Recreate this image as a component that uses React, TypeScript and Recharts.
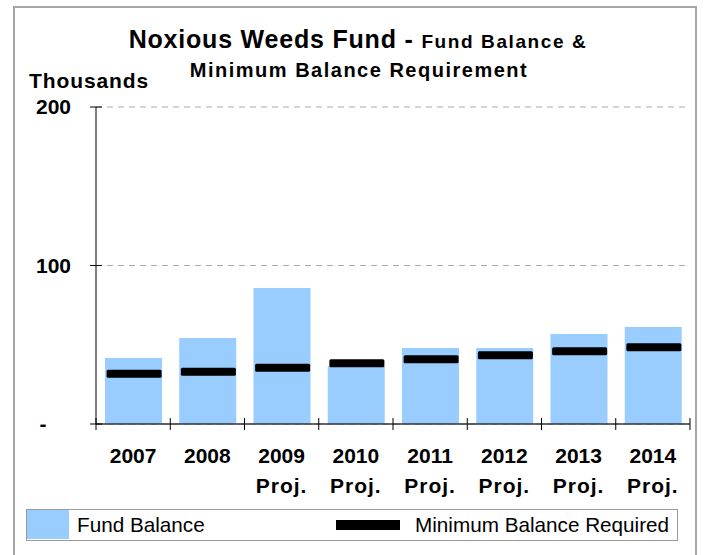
import React from 'react';
import { ComposedChart, Bar, Line, XAxis, YAxis, CartesianGrid, Legend } from 'recharts';

const years = ['2007', '2008', '2009', '2010', '2011', '2012', '2013', '2014'];
const yearNotes = ['', '', 'Proj.', 'Proj.', 'Proj.', 'Proj.', 'Proj.', 'Proj.'];
const fundBalance = [41.6, 54.3, 85.8, 36.6, 48.0, 48.0, 56.8, 61.2];
const minBalance = [31.7, 33.0, 35.5, 38.3, 40.8, 43.3, 45.9, 48.4];
const yTicks = [0, 100, 200];

const seriesNames = { fund: 'Fund Balance', min: 'Minimum Balance Required' };
const seriesColors = { fund: '#99CCFF', min: '#000000' };

const data = years.map((y, i) => ({
  year: y,
  note: yearNotes[i],
  fund: fundBalance[i],
  min: minBalance[i],
}));

const W = 704;
const H = 555;
const M = { top: 107, right: 14, bottom: 71, left: 16 };
const Y_W = 80;
const X_H = 60;
const BAND = (W - M.left - M.right - Y_W) / years.length;
const FONT = '"Liberation Sans", Arial, sans-serif';

const XTick = (props: any) => {
  const { x, y, payload, index } = props;
  const i = payload?.index ?? index ?? 0;
  const note = yearNotes[i];
  return (
    <g>
      <line x1={x - BAND / 2} x2={x - BAND / 2} y1={y - 6} y2={y + 6} stroke="#000" strokeWidth={1} />
      {i === years.length - 1 && (
        <line x1={x + BAND / 2} x2={x + BAND / 2} y1={y - 6} y2={y + 6} stroke="#000" strokeWidth={1} />
      )}
      <text x={x} y={y + 39} textAnchor="middle" fontFamily={FONT} fontWeight="bold" fontSize={21} fill="#000">
        {payload.value}
      </text>
      {note && (
        <text x={x} y={y + 69} textAnchor="middle" fontFamily={FONT} fontWeight="bold" fontSize={21} fill="#000" letterSpacing={1}>
          {note}
        </text>
      )}
    </g>
  );
};

const YTick = (props: any) => {
  const { x, y, payload } = props;
  const v = payload.value;
  return (
    <g>
      <line x1={x - 6} x2={x + 6} y1={y} y2={y} stroke="#000" strokeWidth={1} />
      {v === 0 ? (
        <text x={x - 53} y={y + 6.5} textAnchor="middle" fontFamily={FONT} fontWeight="bold" fontSize={21} fill="#000">
          -
        </text>
      ) : (
        <text x={x - 25} y={y + 7} textAnchor="end" fontFamily={FONT} fontWeight="bold" fontSize={21} fill="#000">
          {v}
        </text>
      )}
    </g>
  );
};

const MinDot = (props: any) => {
  const { cx, cy, index } = props;
  if (cx == null || cy == null) return <g key={`d${index}`} />;
  return <rect key={`d${index}`} x={cx - 26.5} y={cy - 4} width={55} height={8} rx={1.5} fill="#000" />;
};

const LegendContent = () => (
  <div
    style={{
      width: 652,
      height: 32,
      boxSizing: 'border-box',
      border: '1.5px solid #9a9a9a',
      position: 'relative',
      fontFamily: FONT,
      fontSize: 20.7,
      color: '#000',
      background: '#fff',
    }}
  >
    <div style={{ position: 'absolute', left: 0, top: 0, width: 42, height: 29, background: seriesColors.fund }} />
    <div style={{ position: 'absolute', left: 50, top: 3, lineHeight: '24px', whiteSpace: 'nowrap' }}>{seriesNames.fund}</div>
    <div style={{ position: 'absolute', left: 309, top: 10, width: 64, height: 10, background: seriesColors.min }} />
    <div style={{ position: 'absolute', left: 388, top: 3, lineHeight: '24px', whiteSpace: 'nowrap' }}>
      {seriesNames.min}
    </div>
  </div>
);

export default function App() {
  return (
    <div style={{ position: 'absolute', left: 0, top: 0, width: W, height: H, background: '#fff', overflow: 'hidden' }}>
      <div
        style={{
          position: 'absolute',
          left: 13,
          top: 6,
          width: 684,
          height: 570,
          border: '2px solid #a6a6a6',
          boxSizing: 'border-box',
        }}
      />
      <div
        style={{
          position: 'absolute',
          left: 0,
          width: 716,
          top: 24,
          textAlign: 'center',
          fontFamily: FONT,
          fontWeight: 'bold',
          color: '#000',
          whiteSpace: 'nowrap',
          lineHeight: '30px',
        }}
      >
        <span style={{ fontSize: 25, letterSpacing: 0.8 }}>Noxious Weeds Fund - </span>
        <span style={{ fontSize: 19, letterSpacing: 1.6 }}>Fund Balance &amp;</span>
      </div>
      <div
        style={{
          position: 'absolute',
          left: 0,
          width: 718,
          top: 57,
          textAlign: 'center',
          fontFamily: FONT,
          fontWeight: 'bold',
          fontSize: 20,
          letterSpacing: 1.5,
          color: '#000',
          whiteSpace: 'nowrap',
          lineHeight: '26px',
        }}
      >
        Minimum Balance Requirement
      </div>
      <div
        style={{
          position: 'absolute',
          left: 29,
          top: 69,
          fontFamily: FONT,
          fontWeight: 'bold',
          fontSize: 21,
          letterSpacing: 0.9,
          color: '#000',
          whiteSpace: 'nowrap',
          lineHeight: '24px',
        }}
      >
        Thousands
      </div>
      <div style={{ position: 'absolute', left: 0, top: 0 }}>
        <ComposedChart width={W} height={H} data={data} margin={M}>
          <CartesianGrid vertical={false} stroke="#aaaaaa" strokeDasharray="6 5" />
          <XAxis
            dataKey="year"
            height={X_H}
            tickSize={0}
            tickMargin={0}
            tick={<XTick />}
            axisLine={{ stroke: '#333', strokeWidth: 1.5 }}
            tickLine={false}
            interval={0}
          />
          <YAxis
            width={Y_W}
            domain={[0, 200]}
            ticks={yTicks}
            tickSize={0}
            tickMargin={0}
            tick={<YTick />}
            axisLine={{ stroke: '#000', strokeWidth: 1 }}
            tickLine={false}
          />
          <Bar dataKey="fund" name={seriesNames.fund} fill={seriesColors.fund} barSize={57} isAnimationActive={false} />
          <Line
            dataKey="min"
            name={seriesNames.min}
            stroke="transparent"
            strokeWidth={0}
            dot={(p: any) => <MinDot {...p} />}
            activeDot={false}
            isAnimationActive={false}
          />
          <Legend
            layout="horizontal"
            verticalAlign="middle"
            align="center"
            content={<LegendContent />}
            wrapperStyle={{ left: 26, top: 509, width: 652, height: 32 }}
          />
        </ComposedChart>
      </div>
    </div>
  );
}
